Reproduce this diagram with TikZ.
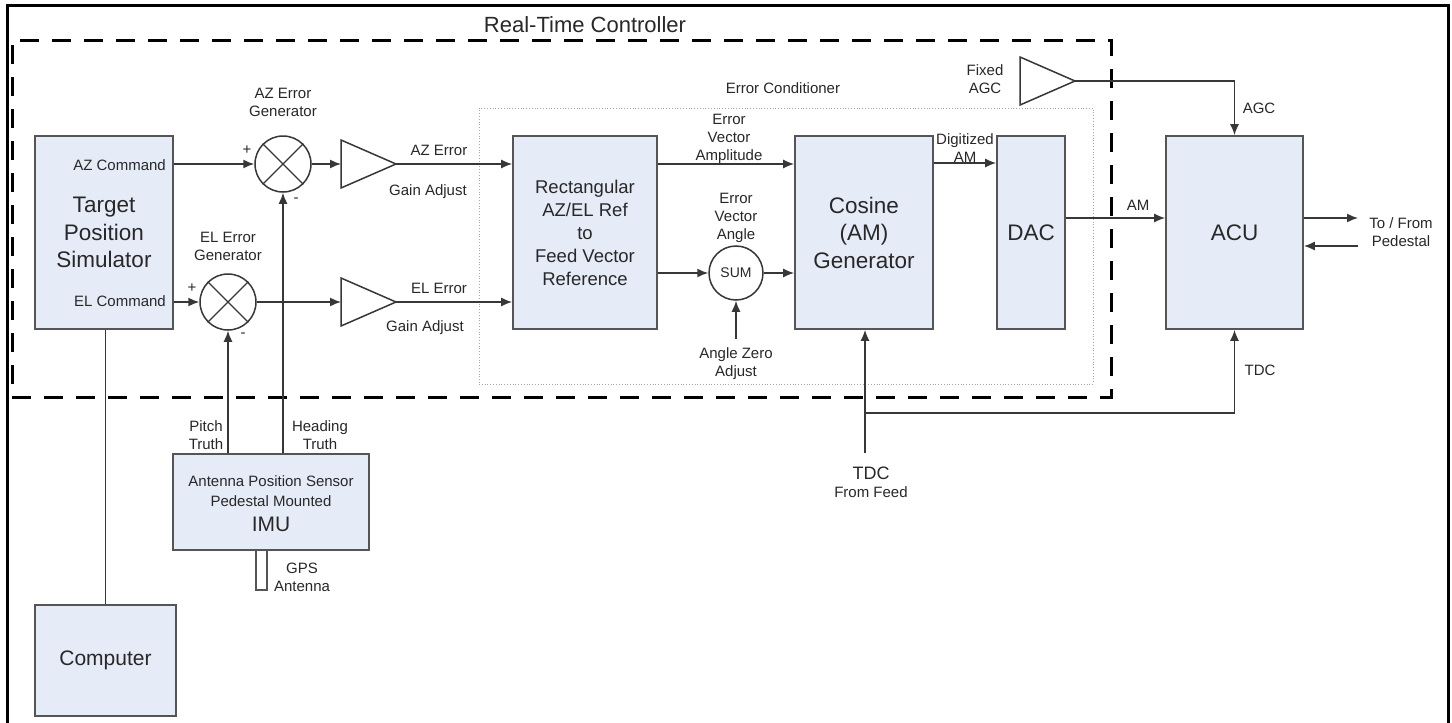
\documentclass[tikz,border=0pt]{standalone}
\usepackage{fontspec}
\setmainfont{Liberation Sans}
\usetikzlibrary{arrows.meta,shapes.geometric,calc}
\definecolor{boxfill}{RGB}{230,236,247}
\definecolor{boxline}{RGB}{85,85,85}
\definecolor{wirec}{RGB}{55,55,55}
\definecolor{txt}{RGB}{40,40,40}
\begin{document}
\begin{tikzpicture}[x=1pt,y=-1pt,
  every node/.style={text=txt, inner sep=0pt},
  lbl/.style={font=\fontsize{15}{18}\selectfont, align=center},
  sgn/.style={font=\fontsize{15}{17}\selectfont},
  big/.style={font=\fontsize{22.5}{27.5}\selectfont, align=center},
  blk/.style={draw=boxline, fill=boxfill, line width=1.7pt},
  wire/.style={draw=wirec, line width=1.5pt},
  arr/.style={wire, -{Latex[length=11pt,width=9pt]}},
  junction/.style={circle, draw=wirec, line width=1.5pt, minimum size=56pt, fill=white},
  amp/.style={isosceles triangle, isosceles triangle stretches, draw=wirec, line width=1.5pt,
              minimum width=48pt, minimum height=55pt, outer sep=0pt, anchor=apex, fill=white}]
\useasboundingbox (0,0) rectangle (1452,723);
\fill[white] (0,0) rectangle (1452,723);
\draw[line width=3pt] (7,723) -- (7,5) -- (1448,5) -- (1448,723);

% containers
\node[draw=black, line width=3pt, dash pattern=on 19pt off 13pt, minimum width=1099pt, minimum height=357pt] (rtc) at (561.5,218.5) {};
\node[draw=gray!70, line width=0.8pt, dotted, minimum width=614pt, minimum height=276pt] (econd) at (786,246) {};
\node[font=\fontsize{22}{26}\selectfont] (rtclbl) at (585,25) {Real-Time Controller};
\node[lbl] (econdlbl) at (783,88) {Error Conditioner};

% blocks
\node[blk, big, minimum width=138pt, minimum height=193pt] (sim) at (104,232.5) {Target\\Position\\Simulator};
\node[lbl, anchor=east] (azcmd) at (166,165) {AZ Command};
\node[lbl, anchor=east] (elcmd) at (166,301) {EL Command};
\node[blk, font=\fontsize{18.5}{23}\selectfont, align=center, minimum width=144pt, minimum height=193pt] (rect) at (585,232.5) {Rectangular\\AZ/EL Ref\\to\\Feed Vector\\Reference};
\node[blk, big, minimum width=138pt, minimum height=193pt] (cos) at (864,232.5) {Cosine\\(AM)\\Generator};
\node[blk, big, minimum width=68pt, minimum height=193pt] (dac) at (1031,232.5) {DAC};
\node[blk, big, minimum width=137pt, minimum height=193pt] (acu) at (1234.5,232.5) {ACU};
\node[draw=boxline, line width=1.5pt, fill=white, minimum width=11pt, minimum height=40pt] (gps) at (261.5,570) {};
\node[blk, minimum width=196pt, minimum height=96pt] (imu) at (271,502) {};
\node[lbl] (imut1) at (271,481) {Antenna Position Sensor};
\node[lbl] (imut2) at (271,501) {Pedestal Mounted};
\node[font=\fontsize{21}{25}\selectfont] (imut3) at (271,524) {IMU};
\node[blk, font=\fontsize{21}{25}\selectfont, minimum width=141pt, minimum height=111pt] (comp) at (105.5,660.5) {Computer};

% junctions and amplifiers
\node[junction] (azsum) at (283,164) {};
\draw[wire, line width=1.1pt] (azsum.45) -- (azsum.225) (azsum.135) -- (azsum.315);
\node[junction] (elsum) at (228,302) {};
\draw[wire, line width=1.1pt] (elsum.45) -- (elsum.225) (elsum.135) -- (elsum.315);
\node[junction, minimum size=54pt, font=\fontsize{14}{16}\selectfont] (sum) at (736,273) {SUM};
\node[amp] (azamp) at (396,164) {};
\node[amp] (elamp) at (396,302) {};
\node[amp] (agcamp) at (1075,81) {};

% coordinates for free ends
\coordinate (yAM) at (0,163);
\coordinate (yAMo) at (0,218);
\coordinate (ped) at (1358,218);
\coordinate (pedin) at (1358,246);
\coordinate (zeroin) at (736,339);
\coordinate (tdcsrc) at (865,453);
\coordinate (tdcbr) at (865,413);

% connectors
\draw[arr] (sim.east |- azsum) -- (azsum.west);
\draw[arr] (azsum.east) -- (azamp.west);
\draw[arr] (azamp.apex) -- (azamp.apex -| rect.west);
\draw[arr] (sim.east |- elsum) -- (elsum.west);
\draw[arr] (elsum.east) -- (elamp.west);
\draw[arr] (elamp.apex) -- (elamp.apex -| rect.west);
\draw[arr] (elsum.south |- imu.north) -- (elsum.south);
\draw[arr] (azsum.south |- imu.north) -- (azsum.south);
\draw[wire] (comp.north |- sim.south) -- (comp.north);
\draw[arr] (rect.east |- azamp.apex) -- (cos.west |- azamp.apex);
\draw[arr] (rect.east |- sum) -- (sum.west);
\draw[arr] (sum.east) -- (cos.west |- sum);
\draw[arr] (zeroin) -- (sum.south);
\draw[arr] (cos.east |- yAM) -- (dac.west |- yAM);
\draw[arr] (dac.east |- yAMo) -- (acu.west |- yAMo);
\draw[arr] (agcamp.apex) -| (acu.north);
\draw[arr] (acu.east |- ped) -- (ped);
\draw[arr] (pedin) -- (acu.east |- pedin);
\draw[arr] (tdcsrc) -- (tdcsrc |- cos.south);
\draw[arr] (tdcbr) -| (acu.south);

% labels
\node[lbl] (azgen) at (283,102) {AZ Error\\Generator};
\node[lbl] (elgen) at (228,246) {EL Error\\Generator};
\node[sgn] (azp) at (247,150) {+};
\node[sgn] (azm) at (296,200) {-};
\node[sgn] (elp) at (192,288) {+};
\node[sgn] (elm) at (243,335) {-};
\node[lbl] (azerr) at (439,150) {AZ Error};
\node[lbl] (azgain) at (428,192) {Gain Adjust};
\node[lbl] (elerr) at (439,288) {EL Error};
\node[lbl] (elgain) at (425,328) {Gain Adjust};
\node[lbl] (pitch) at (206,435) {Pitch\\Truth};
\node[lbl] (heading) at (320,435) {Heading\\Truth};
\node[lbl] (gpslbl) at (302,577) {GPS\\Antenna};
\node[lbl] (evamp) at (729,139) {Error\\Vector\\Amplitude};
\node[lbl] (evang) at (736,218) {Error\\Vector\\Angle};
\node[lbl] (zerolbl) at (736,364) {Angle Zero\\Adjust};
\node[lbl] (diglbl) at (965,148.5) {Digitized\\AM};
\node[lbl] (fixlbl) at (985,79.5) {Fixed\\AGC};
\node[lbl] (agclbl) at (1259,108) {AGC};
\node[lbl] (amlbl) at (1138,205) {AM};
\node[lbl] (pedlbl) at (1401,232) {To / From\\Pedestal};
\node[lbl] (tdclbl) at (1260,370) {TDC};
\node[font=\fontsize{18}{21}\selectfont] (tdcfeed) at (871,473) {TDC};
\node[lbl] (fromfeed) at (871,492) {From Feed};
\end{tikzpicture}
\end{document}
